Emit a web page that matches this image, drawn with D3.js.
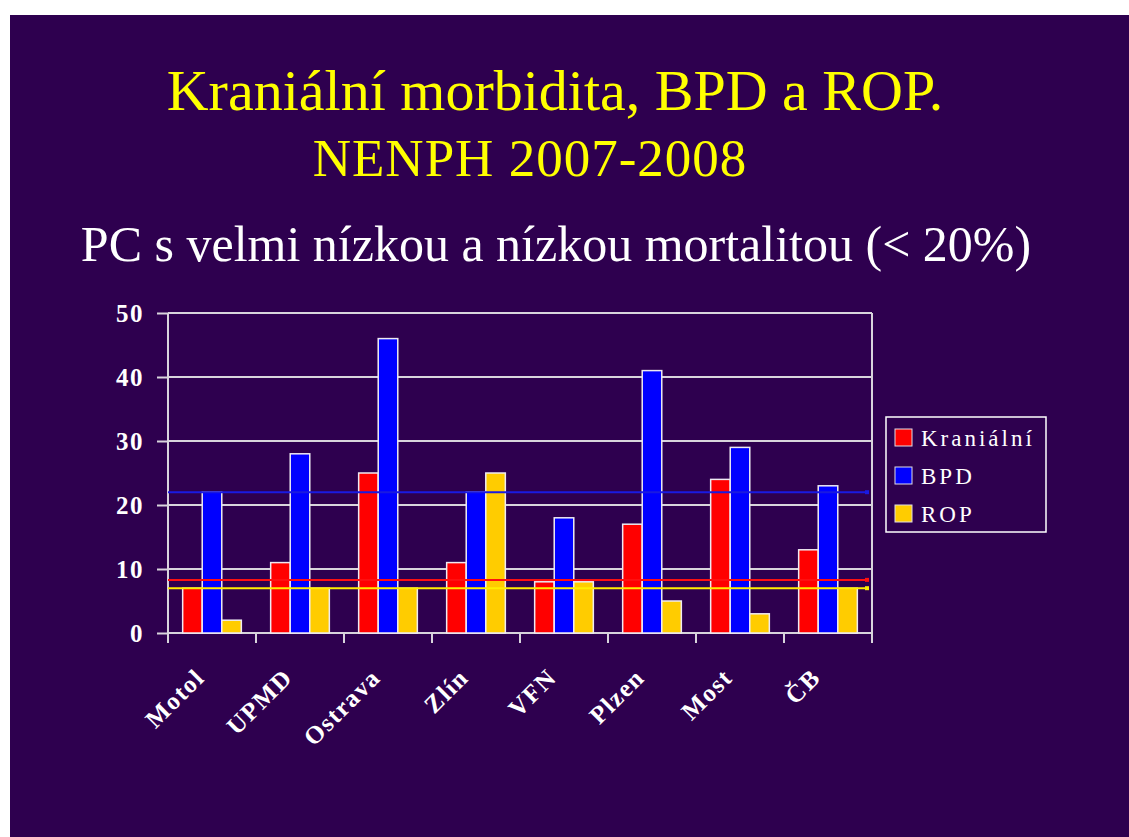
<!DOCTYPE html>
<html>
<head>
<meta charset="utf-8">
<script src="https://cdn.jsdelivr.net/npm/d3@7"></script>
<style>
    html, body { margin: 0; padding: 0; background: #ffffff; }
    svg { display: block; }
    text { font-family: "Liberation Serif", "Times New Roman", serif; }
</style>
</head>
<body>
<div id="chart"></div>
<script>
const CATEGORIES = ['Motol', 'UPMD', 'Ostrava', 'Zlín', 'VFN', 'Plzen', 'Most', 'ČB'];
const SERIES_NAMES = ['Kraniální', 'BPD', 'ROP'];
const KRANIALNI_VALUES = [7, 11, 25, 11, 8, 17, 24, 13];
const BPD_VALUES = [22, 28, 46, 22, 18, 41, 29, 23];
const ROP_VALUES = [2, 7, 7, 25, 8, 5, 3, 7];
const AVERAGE_VALUES = [8.3, 22, 7];
const Y_TICKS = [0, 10, 20, 30, 40, 50];

const BAR_COLORS = ['#ff0000', '#0000ff', '#ffcc00'];
const LINE_COLORS = ['#ff1010', '#1a1ae0', '#ffee00'];

const width = 1129;
const height = 837;
const plot = { left: 168, right: 872, top: 313, bottom: 633 };

const svg = d3.select('#chart').append('svg')
    .attr('width', width)
    .attr('height', height);

svg.append('rect')
    .attr('x', 10)
    .attr('y', 15)
    .attr('width', width - 10)
    .attr('height', height - 15)
    .attr('fill', '#2e004f');

// titles
svg.append('text')
    .attr('x', 555)
    .attr('y', 110)
    .attr('text-anchor', 'middle')
    .attr('fill', '#ffff00')
    .attr('font-size', 58)
    .text('Kraniální morbidita, BPD a ROP.');

svg.append('text')
    .attr('x', 530)
    .attr('y', 176)
    .attr('text-anchor', 'middle')
    .attr('fill', '#ffff00')
    .attr('font-size', 53)
    .attr('letter-spacing', 1)
    .text('NENPH 2007-2008');

svg.append('text')
    .attr('x', 556)
    .attr('y', 261)
    .attr('text-anchor', 'middle')
    .attr('fill', '#ffffff')
    .attr('font-size', 50)
    .text('PC s velmi nízkou a nízkou mortalitou (< 20%)');

const seriesValues = [KRANIALNI_VALUES, BPD_VALUES, ROP_VALUES];
const barData = CATEGORIES.flatMap((category, index) => {
    return SERIES_NAMES.map((name, seriesIndex) => ({
        category,
        name,
        seriesIndex,
        value: seriesValues[seriesIndex][index]
    }));
});

const xScale = d3.scaleBand()
    .domain(CATEGORIES)
    .range([plot.left, plot.right])
    .padding(0);

const subScale = d3.scaleBand()
    .domain(SERIES_NAMES)
    .range([0, xScale.bandwidth()])
    .paddingInner(0)
    .paddingOuter(0.75);

const yScale = d3.scaleLinear()
    .domain([0, 50])
    .range([plot.bottom, plot.top]);

const lineColor = '#d8d4dc';

// grid + y axis
svg.append('g')
    .attr('transform', `translate(${plot.left},0)`)
    .call(d3.axisLeft(yScale).tickValues(Y_TICKS).tickSize(11).tickPadding(13).tickFormat(d3.format('d')))
    .call((group) => group.select('.domain').remove())
    .call((group) => group.selectAll('line').attr('stroke', lineColor).attr('stroke-width', 2))
    .call((group) => group.selectAll('text')
        .attr('fill', '#ffffff')
        .attr('font-size', 25)
        .attr('font-weight', 'bold')
        .attr('letter-spacing', 1.5)
        .attr('font-family', '"Liberation Serif", serif'));

svg.append('g')
    .selectAll('line')
    .data(Y_TICKS)
    .enter()
    .append('line')
    .attr('x1', plot.left)
    .attr('x2', plot.right)
    .attr('y1', (tick) => yScale(tick))
    .attr('y2', (tick) => yScale(tick))
    .attr('stroke', lineColor)
    .attr('stroke-width', 2);

svg.append('line')
    .attr('x1', plot.left).attr('x2', plot.left)
    .attr('y1', plot.top).attr('y2', plot.bottom)
    .attr('stroke', lineColor).attr('stroke-width', 2);

svg.append('line')
    .attr('x1', plot.right).attr('x2', plot.right)
    .attr('y1', plot.top).attr('y2', plot.bottom)
    .attr('stroke', lineColor).attr('stroke-width', 2);

// x ticks at band boundaries
const boundaries = CATEGORIES.map((category) => xScale(category)).concat([plot.right]);
svg.append('g')
    .selectAll('line')
    .data(boundaries)
    .enter()
    .append('line')
    .attr('x1', (x) => x)
    .attr('x2', (x) => x)
    .attr('y1', plot.bottom)
    .attr('y2', plot.bottom + 10)
    .attr('stroke', lineColor)
    .attr('stroke-width', 2);

// bars
svg.append('g')
    .selectAll('rect')
    .data(barData)
    .enter()
    .append('rect')
    .attr('x', (datum) => xScale(datum.category) + subScale(datum.name))
    .attr('y', (datum) => yScale(datum.value))
    .attr('width', subScale.bandwidth())
    .attr('height', (datum) => yScale(0) - yScale(datum.value))
    .attr('fill', (datum) => BAR_COLORS[datum.seriesIndex])
    .attr('stroke', '#eeeaf2')
    .attr('stroke-width', 1.5);

// average lines
const averageGroup = svg.append('g');
averageGroup.selectAll('line')
    .data(AVERAGE_VALUES)
    .enter()
    .append('line')
    .attr('x1', plot.left)
    .attr('x2', plot.right - 4)
    .attr('y1', (value) => yScale(value))
    .attr('y2', (value) => yScale(value))
    .attr('stroke', (value, index) => LINE_COLORS[index])
    .attr('stroke-width', 2);

averageGroup.selectAll('rect')
    .data(AVERAGE_VALUES)
    .enter()
    .append('rect')
    .attr('x', plot.right - 7)
    .attr('y', (value) => yScale(value) - 2)
    .attr('width', 4)
    .attr('height', 4)
    .attr('fill', (value, index) => LINE_COLORS[index]);

// category labels
svg.append('g')
    .selectAll('text')
    .data(CATEGORIES)
    .enter()
    .append('text')
    .attr('transform', (category) => `translate(${xScale(category) + xScale.bandwidth() / 2 - 6},${plot.bottom + 46}) rotate(-45)`)
    .attr('text-anchor', 'end')
    .attr('fill', '#ffffff')
    .attr('font-size', 25)
    .attr('font-weight', 'bold')
    .attr('letter-spacing', 1.5)
    .text((category) => category);

// legend
const legend = svg.append('g').attr('transform', 'translate(886,417)');
legend.append('rect')
    .attr('width', 160)
    .attr('height', 115)
    .attr('fill', 'none')
    .attr('stroke', '#ffffff')
    .attr('stroke-width', 1.5);

const legendItems = legend.selectAll('g')
    .data(SERIES_NAMES)
    .enter()
    .append('g')
    .attr('transform', (name, index) => `translate(9,${21 + index * 38})`);

legendItems.append('rect')
    .attr('y', -9)
    .attr('width', 17)
    .attr('height', 17)
    .attr('fill', (name, index) => BAR_COLORS[index])
    .attr('stroke', '#e0dce6')
    .attr('stroke-width', 1);

legendItems.append('text')
    .attr('x', 26)
    .attr('y', 8)
    .attr('fill', '#ffffff')
    .attr('font-size', 23)
    .attr('letter-spacing', 3)
    .text((name) => name);
</script>
</body>
</html>
